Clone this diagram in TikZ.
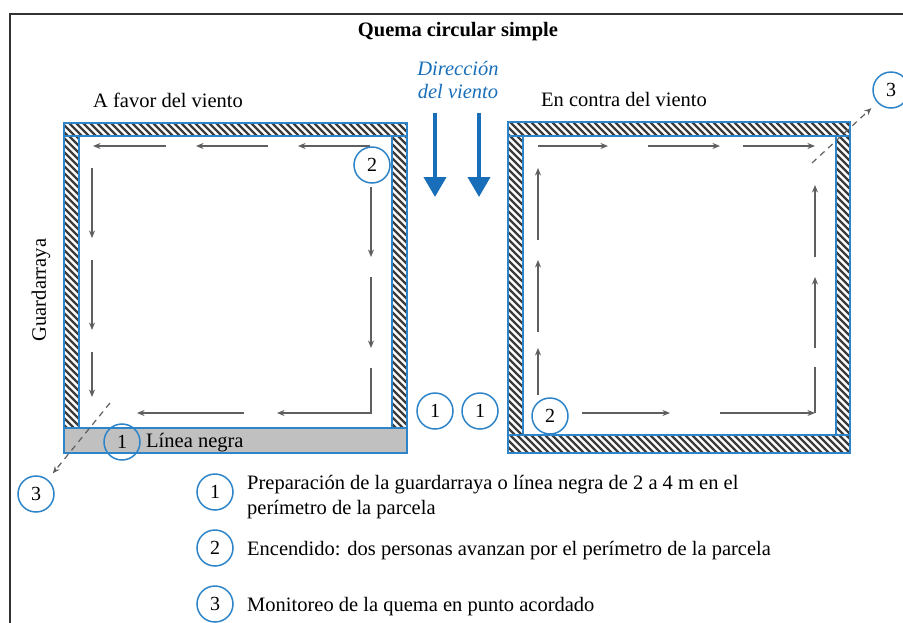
\documentclass[tikz,border=0pt]{standalone}
\usepackage{fontspec}
\setmainfont{Liberation Serif}
\usetikzlibrary{arrows.meta}
\definecolor{bblue}{RGB}{45,132,200}
\definecolor{wblue}{RGB}{25,110,185}
\definecolor{agray}{RGB}{95,95,95}
\definecolor{hgray}{RGB}{60,60,60}
\definecolor{lgray}{RGB}{192,192,192}
\definecolor{fgray}{RGB}{50,50,50}
\newcommand{\hatchband}[4]{%
  \begin{scope}
    \clip (#1,#2) rectangle (#3,#4);
    \foreach \k in {-400,-393,...,860} \draw[hatchline] (\k,#2) -- ++(400,400);
  \end{scope}
  \draw[bandedge] (#1,#2) rectangle (#3,#4);
}
\begin{document}
\begin{tikzpicture}[x=1pt,y=-1pt,
  txt/.style={font=\fontsize{20.5}{24}\selectfont, inner sep=0pt},
  num/.style={circle, draw=bblue, line width=1.5pt, minimum size=36pt, inner sep=0pt, font=\fontsize{20}{24}\selectfont},
  hatchline/.style={draw=hgray, line width=2.3pt},
  bandedge/.style={draw=bblue, line width=1.2pt},
  blackline/.style={draw=bblue, line width=1.2pt, fill=lgray},
  flow/.style={draw=agray, line width=1.3pt, -{Stealth[length=7.5pt,width=6pt]}},
  flowline/.style={draw=agray, line width=1.3pt},
  wind/.style={draw=wblue, line width=4pt, -{Triangle[length=20pt,width=22pt]}},
  mon/.style={draw=agray, line width=1.2pt, dash pattern=on 6pt off 5pt, -{Stealth[length=7pt,width=6pt]}, shorten >=8pt}
]
\useasboundingbox (0,0) rectangle (903,622);
% outer frame
\draw[fgray, line width=2.2pt] (10,640) -- (10,14) -- (920,14);

% title
\node[txt, font=\fontsize{20.5}{24}\selectfont\bfseries, anchor=base] (title) at (458,36) {Quema circular simple};

% wind direction
\node[txt, text=wblue, font=\fontsize{20.5}{24}\selectfont\itshape, anchor=base] (dir1) at (458,75) {Dirección};
\node[txt, text=wblue, font=\fontsize{20.5}{24}\selectfont\itshape, anchor=base] (dir2) at (458,98) {del viento};
\coordinate (w1s) at (435,113); \coordinate (w1e) at (435,197);
\coordinate (w2s) at (479,113); \coordinate (w2e) at (479,197);
\draw[wind] (w1s) -- (w1e);
\draw[wind] (w2s) -- (w2e);

% labels
\node[txt, anchor=base west] (afavor) at (93,107) {A favor del viento};
\node[txt, anchor=base west] (encontra) at (541,106) {En contra del viento};
\node[txt, rotate=90] (guard) at (41,290) {Guardarraya};

% ---------- left square ----------
\hatchband{64}{123}{407}{136}
\hatchband{64}{136}{79}{428}
\hatchband{392}{136}{407}{428}
\draw[blackline] (64,428) rectangle (407,453);
\node[txt, anchor=base west] (linea) at (146,447) {Línea negra};

% flow arrows left square
\draw[flow] (166,146) -- (93,146);
\draw[flow] (268,146) -- (196,146);
\draw[flow] (370,146) -- (298,146);
\draw[flow] (92,168) -- (92,238);
\draw[flow] (92,260) -- (92,330);
\draw[flow] (92,352) -- (92,397);
\draw[flow] (371,187) -- (371,257);
\draw[flow] (371,277) -- (371,348);
\draw[flow] (371,368) -- (371,413) -- (277,413);
\draw[flow] (244,413) -- (137,413);

\node[num] (l2) at (372,165) {2};
\node[num] (l1) at (122,442) {1};

% ---------- right square ----------
\hatchband{508}{122}{850}{136}
\hatchband{508}{435}{850}{453}
\hatchband{508}{136}{523}{435}
\hatchband{836}{136}{850}{435}

\draw[flow] (538,146) -- (608,146);
\draw[flow] (648,146) -- (720,146);
\draw[flow] (743,146) -- (815,146);
\draw[flow] (538,395) -- (538,348);
\draw[flow] (538,332) -- (538,260);
\draw[flow] (538,240) -- (538,168);
\draw[flow] (815,257) -- (815,185);
\draw[flow] (815,348) -- (815,277);
\draw[flowline] (815,367) -- (815,413);
\draw[flow] (720,413) -- (815,413);
\draw[flow] (582,413) -- (670,413);

\node[num] (r2) at (550,416) {2};

% middle circles
\node[num] (m1a) at (435,411) {1};
\node[num] (m1b) at (480,411) {1};

% monitoring points
\node[num] (l3) at (36,494) {3};
\node[num] (r3) at (891,90) {3};
\coordinate (lms) at (110,403);
\coordinate (rms) at (812,163);
\draw[mon] (lms) -- (l3);
\draw[mon] (rms) -- (r3);

% legend
\node[num] (k1) at (215,492) {1};
\node[num] (k2) at (215,548) {2};
\node[num] (k3) at (215,604) {3};
\node[txt, anchor=base west] (t1a) at (247,489) {Preparación de la guardarraya o línea negra de 2 a 4 m en el};
\node[txt, anchor=base west] (t1b) at (247,514) {perímetro de la parcela};
\node[txt, anchor=base west] (t2) at (247,555) {Encendido: dos personas avanzan por el perímetro de la parcela};
\node[txt, anchor=base west] (t3) at (247,611) {Monitoreo de la quema en punto acordado};
\end{tikzpicture}
\end{document}
